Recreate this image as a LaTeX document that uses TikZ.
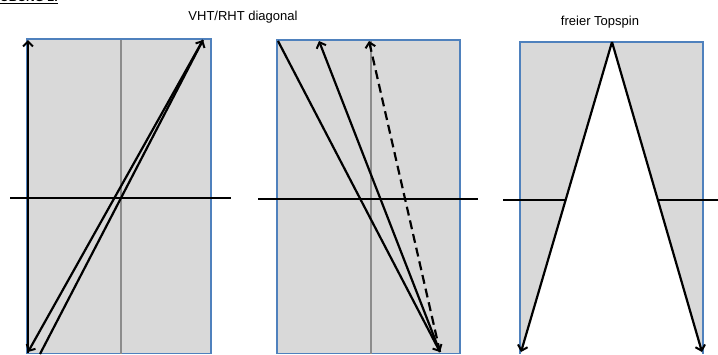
\documentclass[tikz,border=0pt]{standalone}
\usepackage{fontspec}
\setmainfont{Liberation Sans}
\usetikzlibrary{arrows.meta}
\definecolor{feldgrau}{HTML}{D9D9D9}
\definecolor{feldrand}{HTML}{4F81BD}
\definecolor{mittelgrau}{HTML}{8C8C8C}

\begin{document}
\begin{tikzpicture}[x=1pt,y=-1pt,
  feld/.style={fill=feldgrau,draw=feldrand,line width=1.1pt},
  mitte/.style={mittelgrau,line width=1.5pt},
  netz/.style={black,line width=1.8pt},
  schlag/.style={black,line width=2.2pt,-{Straight Barb[length=5pt,width=10pt,line width=2pt]}},
  titel/.style={font=\fontsize{13}{15}\selectfont,inner sep=0pt}]
\useasboundingbox (0,0) rectangle (718,354);

% Ueberschrift (oben abgeschnitten)
\node[anchor=base west,inner sep=0pt,font=\fontsize{12}{14}\selectfont\bfseries] (uebung) at (0,1.5) {ÜBUNG 2:};
\draw[line width=0.9pt] ([yshift=-2.2pt]uebung.base west) -- ([yshift=-2.2pt]uebung.base east);
\node[titel] (titeldiag) at (243,17) {VHT/RHT diagonal};
\node[titel] (titeltop) at (600,22) {freier Topspin};

% Feld 1
\coordinate (a1) at (28,353);
\coordinate (a1o) at (28,40);
\coordinate (a2) at (203,40);
\coordinate (a3) at (28,352);
\coordinate (a4) at (40,354);
\draw[feld] (27,39) rectangle (211,353.5);
\draw[mitte] (121,39.6) -- (121,354);
\draw[netz] (10,198) -- (231,198);
\draw[schlag] (a1) -- (a1o);
\draw[schlag] (a2) -- (a3);
\draw[schlag] (a4) -- (a2);

% Feld 2
\coordinate (b1) at (278,41);
\coordinate (b2) at (440,352);
\coordinate (b3) at (319,41);
\coordinate (b4) at (369,41);
\draw[feld] (277,40) rectangle (460,353.5);
\draw[mitte] (371,40.6) -- (371,354);
\draw[netz] (258,199) -- (478,199);
\draw[schlag] (b1) -- (b2);
\draw[schlag] (b2) -- (b3);
\draw[schlag,dash pattern=on 9pt off 5pt] (b2) -- (b4);

% Feld 3
\coordinate (c1) at (612,42);
\coordinate (c2) at (521,352);
\coordinate (c3) at (702,352);
\coordinate (c4) at (565.6,200);
\coordinate (c5) at (658.4,200);
\draw[feld] (520,42) rectangle (703,353.5);
\fill[white] (c1) -- (521,354) -- (702,354) -- cycle;
\draw[netz] (503,200) -- (c4);
\draw[netz] (c5) -- (718,200);
\draw[schlag] (c1) -- (c2);
\draw[schlag] (c1) -- (c3);
\end{tikzpicture}
\end{document}
